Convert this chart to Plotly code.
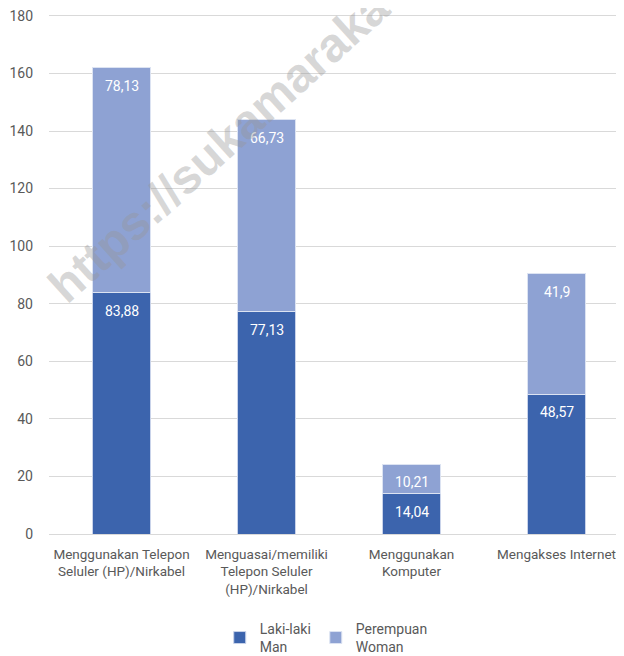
import plotly.graph_objects as go

categories = [
    "Menggunakan Telepon<br>Seluler (HP)/Nirkabel",
    "Menguasai/memiliki<br>Telepon Seluler<br>(HP)/Nirkabel",
    "Menggunakan<br>Komputer",
    "Mengakses Internet",
]
laki_laki = [83.88, 77.13, 14.04, 48.57]
perempuan = [78.13, 66.73, 10.21, 41.9]
y_ticks = [0, 20, 40, 60, 80, 100, 120, 140, 160, 180]

FONT = "Roboto, Lato, sans-serif"

def fmt(v):
    s = f"{v:.2f}".rstrip("0").rstrip(".")
    return s.replace(".", ",")

fig = go.Figure()
fig.add_trace(go.Bar(
    x=categories, y=laki_laki, name="Laki-laki<br>Man",
    marker=dict(color="#3C64AD", line=dict(color="#C9D3EA", width=1)),
))
fig.add_trace(go.Bar(
    x=categories, y=perempuan, name="Perempuan<br>Woman",
    marker=dict(color="#8EA2D3", line=dict(color="#DCE3F2", width=1)),
))

# value labels just below the top of each stacked segment
for cat, lv, pv in zip(categories, laki_laki, perempuan):
    for top, val in ((lv, lv), (lv + pv, pv)):
        fig.add_annotation(
            x=cat, y=top, text=fmt(val), showarrow=False,
            yanchor="middle", yshift=-18,
            font=dict(color="white", size=14, family=FONT),
        )

fig.update_layout(
    width=624, height=656,
    barmode="stack", bargap=0.6,
    plot_bgcolor="white", paper_bgcolor="white",
    margin=dict(l=41, r=3, t=5, b=130, autoexpand=False),
    font=dict(family=FONT, color="#595959", size=14),
    showlegend=True,
    legend=dict(orientation="h", xref="container", x=0.51, xanchor="center",
                yref="container", y=0.078, yanchor="top",
                font=dict(size=14, color="#595959"), traceorder="normal"),
)
fig.update_yaxes(range=[0, 181], tickvals=y_ticks, showgrid=True,
                 gridcolor="#D9D9D9", gridwidth=1, zeroline=True,
                 zerolinecolor="#D9D9D9", zerolinewidth=1, automargin=False,
                 ticklabeloverflow="allow",
                 ticks="", ticklabelstandoff=15, tickfont=dict(size=14, color="#595959"))
fig.update_xaxes(showgrid=False, ticks="", automargin=False, ticklabelstandoff=10,
                 ticklabeloverflow="allow",
                 tickfont=dict(size=13.5, color="#595959"), showline=False)

fig.add_annotation(
    text="<b>https://sukamarakata.com</b>", xref="paper", yref="paper",
    x=0.392, y=0.843, xanchor="center", yanchor="middle",
    textangle=-42, showarrow=False,
    font=dict(size=48, color="rgba(150,150,150,0.38)", family="Liberation Sans, Arial, sans-serif"),
)

fig.write_html("out.html")
